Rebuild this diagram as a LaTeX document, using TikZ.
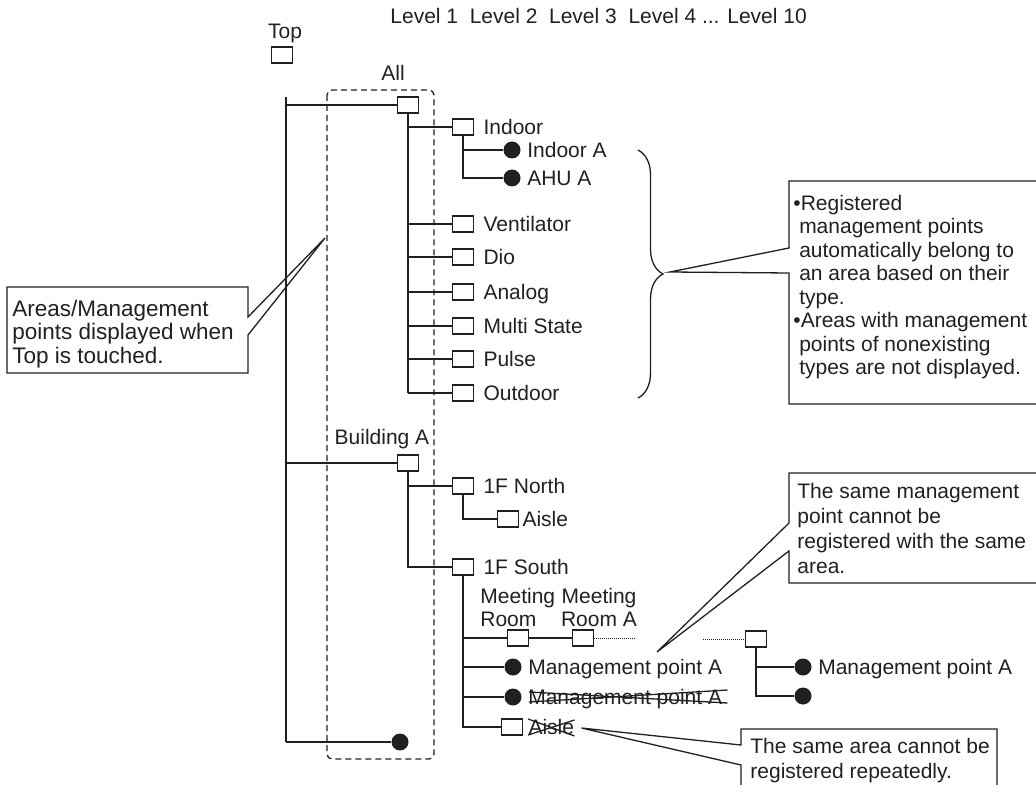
\documentclass[tikz,border=0pt]{standalone}
\usepackage{fontspec}
\setmainfont{Liberation Sans}
\usetikzlibrary{positioning, calc, decorations.pathreplacing}
\definecolor{ink}{RGB}{35,31,32}
\tikzset{
  area/.style = {draw, minimum width = 10.5pt, minimum height = 8pt, inner sep = 0pt, line width = 0.65pt},
  mpoint/.style = {circle, fill, minimum size = 8.5pt, inner sep = 0pt},
  lbl/.style = {inner sep = 0pt, text height = 7.5pt, text depth = 0pt},
  branch/.style = {line width = 0.7pt},
  trunk/.style = {line width = 0.95pt},
  note/.style = {line width = 0.65pt},
  notetext/.style = {inner sep = 0pt, align = left, anchor = north west},
  dots/.style = {line width = 0.4pt, dash pattern = on 0.4pt off 0.6pt}
}

\begin{document}
\begin{tikzpicture}[x = 0.5pt, y = -0.5pt, font = \fontsize{10.5}{11.75}\selectfont, color = ink]

\clip (0, 0) rectangle (1036, 785);

\node (levels) [lbl, anchor = west] at (390, 16) {Level 1\ \ Level 2\ \ Level 3\ \ Level 4 ... Level 10};
\node (toplbl) [lbl] at (285, 31) {Top};
\node (top) [area] at (282, 55) {};

\draw[note, dash pattern = on 3pt off 2pt, rounded corners = 2.5pt] (327, 90) rectangle (434, 759);

\node (all) [area] at (408, 105) {};
\node (alllbl) [lbl] at (393, 73) {All};
\node (bldg) [area] at (408, 463) {};
\node (bldglbl) [lbl] at (382, 437) {Building A};
\node (rootpt) [mpoint] at (400, 742) {};

\coordinate (trunktop) at (286, 97);
\coordinate (trunkbot) at (286, 742);
\draw[trunk] (trunktop) -- (trunkbot);
\draw[branch] (trunkbot) -- (rootpt);
\draw[branch] (trunktop |- all) -- (all);
\draw[branch] (trunktop |- bldg) -- (bldg);

\foreach \nm/\y/\txt in {indoor/127/Indoor, vent/224/Ventilator, dio/257/Dio, analog/292/Analog, multi/326/Multi State, pulse/359/Pulse, outdoor/393/Outdoor} {
  \node (\nm) [area] at (463, \y) {};
  \node (\nm lbl) [lbl, right = 4.5pt of \nm] {\txt};
  \draw[branch] (all.south |- \nm) -- (\nm);
}
\draw[branch] (all) -- (all.south |- outdoor);

\node (indoora) [mpoint] at (512, 150) {};
\node (indooralbl) [lbl, right = 3pt of indoora] {Indoor A};
\node (ahua) [mpoint] at (512, 178) {};
\node (ahualbl) [lbl, right = 3pt of ahua] {AHU A};
\draw[branch] (indoor) -- (indoor.south |- ahua) -- (ahua);
\draw[branch] (indoor.south |- indoora) -- (indoora);

\coordinate (bracetop) at (638, 150);
\coordinate (bracebot) at (638, 398);
\coordinate (bracetip) at (670, 272);
\draw[note, decorate, decoration = {brace, amplitude = 12.5pt}] (bracetop) -- (bracebot);
\draw[note] (789, 248) -- (789, 181) -- (1040, 181) -- (1040, 404) -- (789, 404) -- (789, 273) -- (bracetip) -- cycle;
\node (typenote) [notetext] at (793, 194.5) {•Registered\\\ management points\\\ automatically belong to\\\ an area based on their\\\ type.\\•Areas with management\\\ points of nonexisting\\\ types are not displayed.};

\node (north) [area] at (463, 486) {};
\node (northlbl) [lbl, right = 4.5pt of north] {1F North};
\node (south) [area] at (463, 567) {};
\node (southlbl) [lbl, right = 4.5pt of south] {1F South};
\draw[branch] (bldg) -- (bldg.south |- south) -- (south);
\draw[branch] (bldg.south |- north) -- (north);
\node (aisle) [area] at (508, 519) {};
\node (aislelbl) [lbl, right = 1.5pt of aisle] {Aisle};
\draw[branch] (north) -- (north.south |- aisle) -- (aisle);

\node (meet) [area] at (518, 638) {};
\node (meeta) [area] at (583, 638) {};
\node (meetlbl) [notetext] at (480, 587.5) {Meeting\\Room};
\node (meetalbl) [inner sep = 0pt, align = center, anchor = north] at (599, 587.5) {Meeting\\Room A};
\node (mpa) [mpoint] at (513, 667) {};
\node (mpalbl) [lbl, right = 3pt of mpa] {Management point A};
\node (mpx) [mpoint] at (513, 697) {};
\node (mpxlbl) [lbl, right = 3pt of mpx] {Management point A};
\node (aislex) [area] at (512, 727) {};
\node (aislexlbl) [lbl, right = 2.5pt of aislex] {Aisle};
\coordinate (meetend) at (635, 638);
\draw[branch] (south) -- (south.south |- aislex) -- (aislex);
\draw[branch] (south.south |- meet) -- (meet) -- (meeta);
\draw[dots] (meeta) -- (meetend);
\draw[branch] (south.south |- mpa) -- (mpa);
\draw[branch] (south.south |- mpx) -- (mpx);
\draw[note] ([shift = {(1, -5)}] mpxlbl.west) -- ([shift = {(5, 6)}] mpxlbl.east);
\draw[note] ([shift = {(1, 5)}] mpxlbl.west) -- ([shift = {(5, -7)}] mpxlbl.east);
\draw[note] ([shift = {(0, -8)}] aislexlbl.west) -- ([shift = {(0, 9)}] aislexlbl.east);
\draw[note] ([shift = {(0, 8)}] aislexlbl.west) -- ([shift = {(0, -7)}] aislexlbl.east);

\coordinate (moreend) at (703, 639);
\node (room) [area] at (756, 639) {};
\draw[dots] (moreend) -- (room);
\node (mpb) [mpoint] at (803, 667) {};
\node (mpblbl) [lbl, right = 3pt of mpb] {Management point A};
\node (mpc) [mpoint] at (803, 696) {};
\draw[branch] (room) -- (room.south |- mpc) -- (mpc);
\draw[branch] (room.south |- mpb) -- (mpb);

\coordinate (sametip) at (657, 652);
\draw[note] (789, 523) -- (789, 473) -- (1040, 473) -- (1040, 583) -- (789, 583) -- (789, 551) -- (sametip) -- cycle;
\node (samenote) [notetext, font = \fontsize{10.5}{12.5}\selectfont] at (797, 482.5) {The same management\\point cannot be\\registered with the same\\area.};

\coordinate (aisletip) at ([shift = {(7, 1)}] aislexlbl.east);
\draw[note] (741, 790) -- (741, 765) -- (aisletip) -- (741, 745) -- (741, 729) -- (997, 729) -- (997, 790);
\node (repnote) [notetext, font = \fontsize{10.5}{12.5}\selectfont] at (750, 737.5) {The same area cannot be\\registered repeatedly.};

\coordinate (lefttip) at (325, 238);
\draw[note] (248, 317) -- (248, 287) -- (7, 287) -- (7, 373) -- (248, 373) -- (248, 335) -- (lefttip) -- cycle;
\node (topnote) [notetext, font = \fontsize{11.25}{11.75}\selectfont] at (12, 299.5) {Areas/Management\\points displayed when\\Top is touched.};

\end{tikzpicture}
\end{document}
